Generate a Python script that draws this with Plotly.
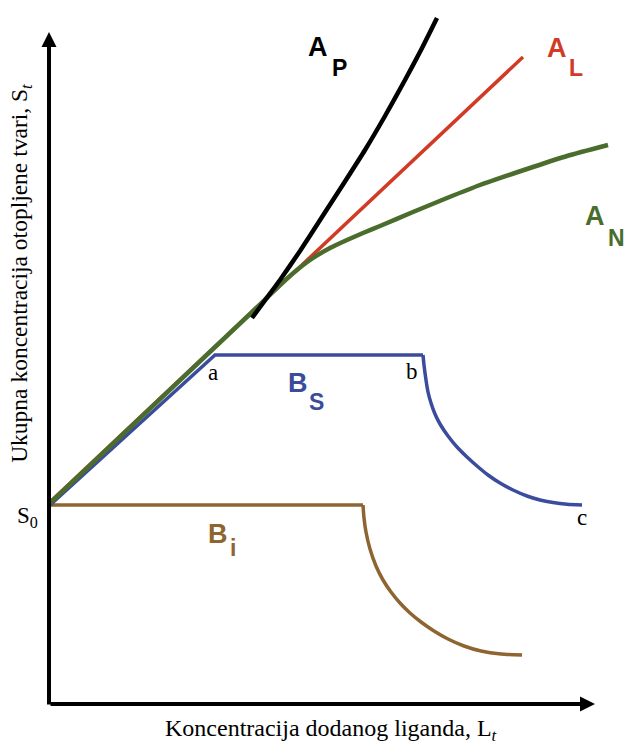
import plotly.graph_objects as go

# Data (arbitrary units, origin at axis corner)
ap_x = [203, 217, 231, 251, 273, 295, 316, 336, 356, 372, 388]
ap_y = [386, 405, 424, 453, 487, 521, 554, 588, 624, 654, 686]

al_x = [0, 474]
al_y = [201, 647]

an_x = [0, 201, 231, 248, 264, 281, 298, 314, 331, 364, 398, 431, 484, 518, 559]
an_y = [200, 390, 419, 434, 446, 456, 464, 471, 478, 492, 506, 519, 537, 548, 559]

bs_x = [0, 166, 374, 375, 377, 379, 382, 386, 391, 399, 408, 418, 428, 439,
        451, 464, 478, 491, 504, 518, 533]
bs_y = [198, 349, 349, 339, 324, 312, 301, 290, 280, 268, 257, 247, 238, 229,
        221, 214, 208, 204, 201.5, 199.8, 199]

bi_x = [0, 314, 315, 317, 321, 327, 334, 342, 351, 361, 372, 385, 399, 415,
        432, 452, 473]
bi_y = [199, 199, 186, 172, 155, 138, 124, 112, 101, 91, 82, 73, 65, 58,
        53, 50, 49]

RED = "#d13a25"
GREEN = "#4a6d2d"
BLUE = "#3b4c9c"
BROWN = "#8e6431"
BLACK = "#000000"

fig = go.Figure()

def line(x, y, color, width, smooth=0.0):
    ln = dict(color=color, width=width)
    if smooth:
        ln.update(shape="spline", smoothing=smooth)
    fig.add_trace(go.Scatter(x=x, y=y, mode="lines", line=ln, hoverinfo="skip"))

# B_i: straight part + curved part
line(bi_x[:2], bi_y[:2], BROWN, 3.5)
line(bi_x[1:], bi_y[1:], BROWN, 3.5, 0.6)
# B_S
line(bs_x[:3], bs_y[:3], BLUE, 3.5)
line(bs_x[2:], bs_y[2:], BLUE, 3.5, 0.6)
# A_L
line(al_x, al_y, RED, 3.5)
# A_N
line(an_x, an_y, GREEN, 4.5, 0.6)
# A_P
line(ap_x, ap_y, BLACK, 4.5, 0.5)

annotations = []

# axes with arrows
annotations.append(dict(x=546, y=0, ax=0, ay=0, xref="x", yref="y", axref="x", ayref="y",
                        showarrow=True, arrowhead=2, arrowsize=0.75, arrowwidth=4,
                        arrowcolor="black", text=""))
annotations.append(dict(x=0, y=672, ax=0, ay=-2, xref="x", yref="y", axref="x", ayref="y",
                        showarrow=True, arrowhead=2, arrowsize=0.75, arrowwidth=4,
                        arrowcolor="black", text=""))

SANS = "Liberation Sans, Arial, sans-serif"
SERIF = "Liberation Serif, Times New Roman, serif"

def lab(x, y, t, color, size, font=SANS, bold=True, ref="x"):
    txt = f"<b>{t}</b>" if bold else t
    annotations.append(dict(x=x, y=y, xref="x" if ref == "x" else "paper",
                            yref="y" if ref == "x" else "paper",
                            text=txt, showarrow=False,
                            font=dict(family=font, size=size, color=color),
                            xanchor="center", yanchor="middle"))

lab(269, 657, "A", BLACK, 27)
lab(290, 636, "P", BLACK, 23)
lab(508, 656, "A", RED, 27)
lab(527, 636, "L", RED, 23)
lab(546, 488, "A", GREEN, 27)
lab(567, 466, "N", GREEN, 23)
lab(249, 321, "B", BLUE, 27)
lab(267, 302, "S", BLUE, 23)
lab(169, 170, "B", BROWN, 27)
lab(184, 156, "i", BROWN, 23)

lab(164, 332, "a", BLACK, 23, SERIF, False)
lab(363, 333, "b", BLACK, 23, SERIF, False)
lab(533, 187, "c", BLACK, 23, SERIF, False)
lab(-0.0365, 0.2656, "S<sub>0</sub>", BLACK, 23, SERIF, False, ref="paper")

annotations.append(dict(x=-0.0486, y=0.611, xref="paper", yref="paper", textangle=-90,
                        text="Ukupna koncentracija otopljene tvari, S<sub><i>t</i></sub>",
                        showarrow=False, xanchor="center", yanchor="middle",
                        font=dict(family=SERIF, size=23.5, color="black")))
annotations.append(dict(x=0.4896, y=-0.0369, xref="paper", yref="paper",
                        text="Koncentracija dodanog liganda, L<sub><i>t</i></sub>",
                        showarrow=False, xanchor="center", yanchor="middle",
                        font=dict(family=SERIF, size=24, color="black")))

fig.update_layout(
    width=625, height=744, autosize=False,
    margin=dict(l=49, r=0, t=0, b=40, pad=0),
    paper_bgcolor="white", plot_bgcolor="white",
    showlegend=False,
    xaxis=dict(range=[0, 576], visible=False, fixedrange=True),
    yaxis=dict(range=[0, 704], visible=False, fixedrange=True),
    annotations=annotations,
)

fig.write_html("out.html", config={"displayModeBar": False},
               post_script="document.body.style.margin='0';document.body.style.overflow='hidden';")
